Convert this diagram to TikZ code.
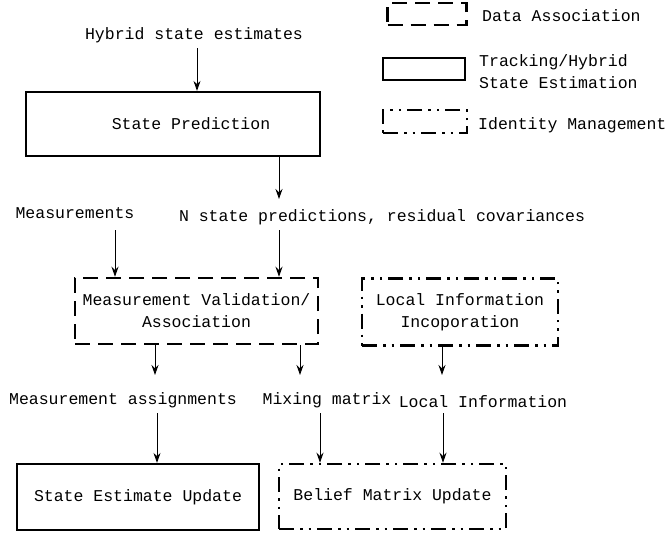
\documentclass[tikz,border=0pt]{standalone}
\usepackage{fontspec}
\setmainfont{Liberation Mono}
\usetikzlibrary{arrows.meta}
\tikzset{
  txt/.style={font=\fontsize{16.5}{22}\selectfont, inner sep=0pt, align=center},
  ltxt/.style={font=\fontsize{16.5}{22}\selectfont, inner sep=0pt, align=left, anchor=west},
  solidbox/.style={draw, line width=2.2pt, rectangle, inner sep=0pt},
  dashbox/.style={draw, line width=2.5pt, rectangle, inner sep=0pt, dash pattern=on 15pt off 8pt},
  ddbox/.style={draw, line width=2.5pt, rectangle, inner sep=0pt, dash pattern=on 15pt off 6pt on 2.5pt off 6pt on 2.5pt off 6pt},
  arr/.style={-{Stealth[length=10pt,width=7pt]}, line width=0.9pt}
}
\begin{document}
\begin{tikzpicture}[x=1pt,y=-1pt]
\useasboundingbox (0,0) rectangle (667,536);
% legend
\node[dashbox, minimum width=79pt, minimum height=22pt] (lg1) at (427,14) {};
\node[ltxt] (lt1) at (482,16) {Data Association};
\node[solidbox, minimum width=82pt, minimum height=22pt] (lg2) at (424,69) {};
\node[ltxt] (lt2) at (479,71.5) {Tracking/Hybrid\\State Estimation};
\node[ddbox, minimum width=84pt, minimum height=23pt] (lg3) at (425,121.5) {};
\node[ltxt] (lt3) at (478,125) {Identity Management};
% main boxes
\node[solidbox, minimum width=294pt, minimum height=64pt, txt] (sp) at (173,124) {\hspace*{36pt}State Prediction};
\node[dashbox, minimum width=243pt, minimum height=66pt, txt] (mv) at (196.5,311) {Measurement Validation/\\Association};
\node[ddbox, minimum width=196pt, minimum height=67pt, txt] (li) at (460,312) {Local Information\\Incoporation};
\node[solidbox, minimum width=242pt, minimum height=66pt, txt] (seu) at (138,497) {State Estimate Update};
\node[ddbox, minimum width=227pt, minimum height=65pt, txt] (bmu) at (392.5,496.5) {Belief Matrix Update};
% labels
\node[txt] (hse) at (194,35) {Hybrid state estimates};
\node[txt] (meas) at (75,213) {Measurements};
\node[txt] (nsp) at (382,217) {N state predictions, residual covariances};
\node[txt] (ma) at (123,400) {Measurement assignments};
\node[txt] (mm) at (327,400) {Mixing matrix};
\node[txt] (lin) at (483,402) {Local Information};
% coordinates
\coordinate (a1) at (197,48);
\coordinate (a2) at (279,199);
\coordinate (a3) at (115,230);
\coordinate (a4) at (279,230);
\coordinate (a5) at (155,375);
\coordinate (a6) at (300,375);
\coordinate (a7) at (442,375);
\coordinate (a8) at (157,413);
\coordinate (a9) at (320,413);
\coordinate (a10) at (443,413);
% arrows
\draw[arr] (a1) -- (sp.north -| a1);
\draw[arr] (sp.south -| a2) -- (a2);
\draw[arr] (a3) -- (mv.north -| a3);
\draw[arr] (a4) -- (mv.north -| a4);
\draw[arr] (mv.south -| a5) -- (a5);
\draw[arr] (mv.south -| a6) -- (a6);
\draw[arr] (li.south -| a7) -- (a7);
\draw[arr] (a8) -- (seu.north -| a8);
\draw[arr] (a9) -- (bmu.north -| a9);
\draw[arr] (a10) -- (bmu.north -| a10);
\end{tikzpicture}
\end{document}
